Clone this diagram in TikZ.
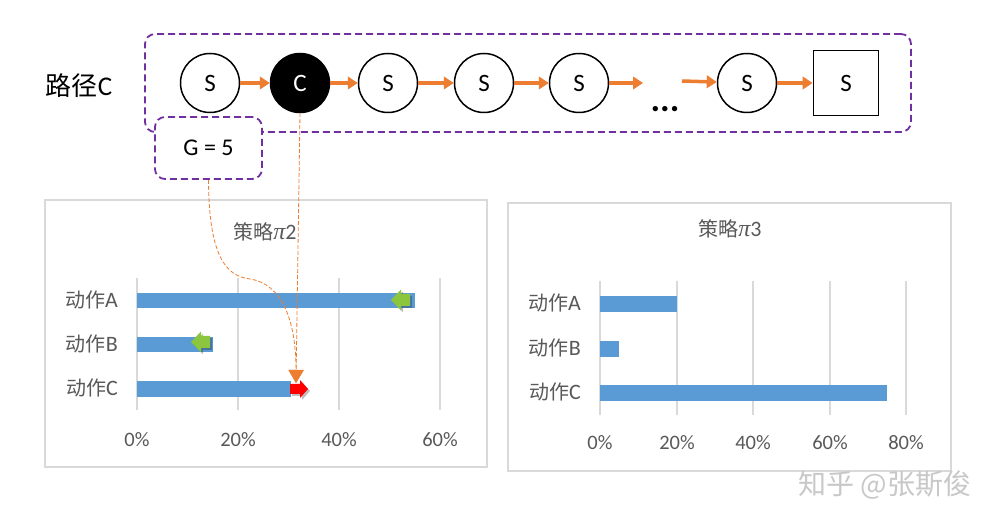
\documentclass[tikz,border=0pt]{standalone}
\usepackage{fontspec}
\setmainfont{Carlito}
\newfontfamily\cjk{Noto Sans CJK SC}
\newfontfamily\pifont{Liberation Serif}
\usetikzlibrary{arrows.meta}
\definecolor{purp}{HTML}{7030A0}
\definecolor{orng}{HTML}{ED7D31}
\definecolor{barblue}{HTML}{5B9BD5}
\definecolor{gridg}{HTML}{D9D9D9}
\definecolor{txtg}{HTML}{595959}
\definecolor{grn}{HTML}{8CC63F}
\definecolor{wmgray}{HTML}{C8C8C8}
\newcommand{\cj}[1]{{\cjk\fontsize{20}{24}\selectfont #1}}
\newcommand{\pisym}{{\pifont\itshape\fontsize{24}{26}\selectfont π}}
\tikzset{
  circ/.style={circle,draw=black,line width=1.5pt,minimum size=59pt,inner sep=0pt,
    font=\fontsize{25}{28}\selectfont},
  blackcirc/.style={circ,fill=black,text=white},
  sqbox/.style={rectangle,draw=black,line width=1.8pt,minimum size=65pt,inner sep=0pt,
    font=\fontsize{25}{28}\selectfont},
  flow/.style={draw=orng,line width=3.5pt,-{Triangle[length=10pt,width=12.5pt]}},
  pbox/.style={rectangle,rounded corners=10pt,draw=purp,line width=1.8pt,
    dash pattern=on 7pt off 4pt,inner sep=0pt},
  gridline/.style={draw=gridg,line width=1.5pt},
  chartbox/.style={draw=gridg,line width=1.3pt},
  tick/.style={text=txtg,font=\fontsize{20.5}{24}\selectfont,inner sep=0pt},
  catlab/.style={text=txtg,font=\fontsize{22}{24}\selectfont,inner sep=0pt,anchor=east},
  ctitle/.style={text=txtg,font=\fontsize{22}{24}\selectfont,inner sep=0pt},
  bar/.style={fill=barblue},
  link/.style={draw=orng,line width=0.8pt,dash pattern=on 4pt off 2pt,
    -{Triangle[length=13pt,width=15pt,fill=orng]}},
  larrow/.pic={
    \fill[black,opacity=0.25] (2,2) -- ++(10,-10.5) -- ++(0,4.5) -- ++(9,0) -- ++(0,12)
      -- ++(-9,0) -- ++(0,4.5) -- cycle;
    \fill[grn] (0,0) -- ++(10,-10.5) -- ++(0,4.5) -- ++(9,0) -- ++(0,12)
      -- ++(-9,0) -- ++(0,4.5) -- cycle;
  },
  rarrow/.pic={
    \fill[black,opacity=0.25] (2,2) -- ++(-8,-9) -- ++(0,4) -- ++(-10,0) -- ++(0,10)
      -- ++(10,0) -- ++(0,4) -- cycle;
    \fill[red] (0,0) -- ++(-8,-9) -- ++(0,4) -- ++(-10,0) -- ++(0,10)
      -- ++(10,0) -- ++(0,4) -- cycle;
  }
}
\begin{document}
\begin{tikzpicture}[x=1pt,y=-1pt]
\useasboundingbox[fill=white] (0,0) rectangle (1005,526);

% ---------- left chart ----------
\draw[chartbox] (45,200) rectangle (487,467);
\node[ctitle] (t2) at (265,232) {\cj{策略}\pisym 2};
\foreach \p/\x in {0/137,20/238,40/339,60/440} {
  \draw[gridline] (\x,278) -- (\x,410);
  \node[tick] (l\p) at (\x,440) {\p\%};
}
\fill[bar] (137,293) rectangle (415,308);
\fill[bar] (137,337) rectangle (213,352);
\fill[bar] (137,381) rectangle (291,397);
\node[catlab] (la) at (118,300) {\cj{动作}A};
\node[catlab] (lb) at (118,344) {\cj{动作}B};
\node[catlab] (lc) at (118,388) {\cj{动作}C};
\pic at (391,300) {larrow};
\pic at (191,342) {larrow};
\pic at (308,389) {rarrow};

% ---------- right chart ----------
\draw[chartbox] (508,203) rectangle (951,471);
\node[ctitle] (t3) at (730,229) {\cj{策略}\pisym 3};
\foreach \p/\x in {0/600,20/677,40/753,60/830,80/906} {
  \draw[gridline] (\x,281) -- (\x,415);
  \node[tick] (r\p) at (\x,443) {\p\%};
}
\fill[bar] (600,296) rectangle (677,312);
\fill[bar] (600,341) rectangle (619,357);
\fill[bar] (600,385) rectangle (887,401);
\node[catlab] (ra) at (581,303) {\cj{动作}A};
\node[catlab] (rb) at (581,348) {\cj{动作}B};
\node[catlab] (rc) at (581,392) {\cj{动作}C};

% ---------- path C ----------
\node[font=\fontsize{27}{30}\selectfont,inner sep=0pt] (pathlab) at (79,86) {{\cjk\fontsize{26}{30}\selectfont 路径}C};
\node[pbox,minimum width=766pt,minimum height=98pt] (pathbox) at (528,83) {};
\node[circ] (s1) at (210,83) {S};
\node[blackcirc] (c) at (300,83) {C};
\node[circ] (s3) at (388,83) {S};
\node[circ] (s4) at (484,83) {S};
\node[circ] (s5) at (579,83) {S};
\coordinate (gapa) at (643,83);
\coordinate (gapb) at (682,81);
\node[font=\fontsize{36}{40}\selectfont\bfseries,inner sep=0pt] (dots) at (665,109) {...};
\node[circ] (s6) at (747,83) {S};
\node[sqbox] (end) at (846,83) {S};
\draw[flow] (s1) -- (c);
\draw[flow] (c) -- (s3);
\draw[flow] (s3) -- (s4);
\draw[flow] (s4) -- (s5);
\draw[flow] (s5) -- (gapa);
\draw[flow] (gapb) -- (s6);
\draw[flow] (s6) -- (end);

\node[pbox,fill=white,minimum width=107pt,minimum height=62pt,
  font=\fontsize{24}{28}\selectfont] (g) at (208.5,148) {G = 5};

% ---------- links ----------
\coordinate (tgt) at (296,383);
\draw[link] (g.south) .. controls (209,255) and (225,276) .. (250,279)
  .. controls (282,284) and (296,320) .. (tgt);
\draw[link] (c.south) -- (tgt);

% ---------- watermark ----------
\node[text=wmgray,font=\cjk\fontsize{28}{32}\selectfont,inner sep=0pt] (wm) at (885,485) {知乎 @张斯俊};
\end{tikzpicture}
\end{document}
